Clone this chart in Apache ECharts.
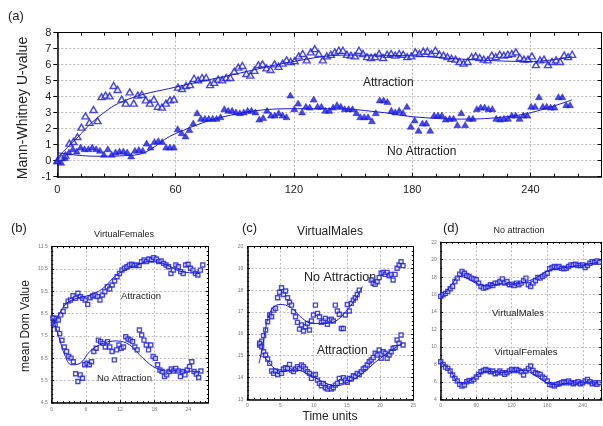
<!DOCTYPE html>
<html>
<head>
    <meta charset="utf-8" />
    <title>Mann-Whitney / mean Dom</title>
    <script src="https://cdn.jsdelivr.net/npm/echarts@6/dist/echarts.min.js"></script>
    <style>
        html, body { margin: 0; padding: 0; background: #fff; }
        #container { width: 603px; height: 426px; }
    </style>
</head>
<body>
    <div id="container"></div>
    <script>
        // ---- (a) Mann-Whitney U-value, sampled every ~2 time units
        var aAttrStart = 0, aAttrStep = 2.04;
        var aAttr = [0, 0.2, 0.35, 1.1, 1.2, 1.5, 2.1, 2.8, 2.4, 3.2,
            2.5, 4.0, 4.1, 4.05, 4.7, 4.45, 3.85, 3.6, 4.3, 3.6,
            4.1, 4.15, 3.8, 3.6, 3.85, 3.4, 3.35, 3.6, 3.8, 3.85,
            4.6, 4.5, 4.7, 4.75, 5.15, 5.05, 5.2, 5.2, 4.75, 4.9,
            5.1, 5.05, 5.2, 5.2, 5.6, 5.85, 5.95, 5.45, 5.35, 5.65,
            6.0, 6.05, 5.8, 5.7, 6.05, 5.9, 6.1, 6.3, 6.2, 6.25,
            6.55, 6.7, 6.3, 6.8, 7.0, 6.7, 6.3, 6.55, 6.65, 6.8,
            6.9, 6.9, 6.65, 6.6, 6.55, 6.9, 6.7, 6.5, 6.45, 6.5,
            6.7, 6.45, 6.65, 6.7, 6.6, 6.7, 6.65, 6.5, 6.55, 6.8,
            6.7, 6.85, 6.85, 6.7, 6.9, 6.65, 6.6, 6.5, 6.4, 6.35,
            6.2, 6.1, 6.2, 6.5, 6.55, 6.45, 6.35, 6.3, 6.6, 6.5,
            6.65, 6.6, 6.65, 6.7, 6.8, 6.45, 6.35, 6.35, 6.55, 6.0,
            6.3, 6.35, 6.0, 6.2, 6.3, 6.2, 6.6, 6.5, 6.65];
        var aNoStart = 0, aNoStep = 1.97;
        var aNo = [0.0, -0.1, 0.2, 0.55, 0.75, 0.6, 0.85, 0.75, 0.75, 0.85,
            0.75, 0.65, 0.4, 0.75, 0.4, 0.55, 0.6, 0.6, 0.55, 0.3,
            0.65, 0.7, 0.65, 1.1, 0.85, 1.2, 1.25, 1.2, 0.85, 0.85,
            0.85, 2.0, 1.75, 1.55, 1.95, 2.35, 3.0, 2.65, 2.65, 2.65,
            2.65, 2.65, 2.75, 3.25, 3.15, 3.15, 3.05, 3.0, 3.05, 3.15,
            3.15, 3.05, 2.6, 2.7, 3.15, 2.85, 2.85, 3.0, 2.85, 2.75,
            4.1, 3.25, 3.6, 3.05, 3.4, 3.35, 3.85, 3.4, 3.4, 3.15,
            3.15, 3.35, 3.5, 3.4, 3.25, 3.25, 3.25, 3.0, 2.75, 2.75,
            2.75, 2.5, 3.0, 3.8, 3.8, 3.7, 3.15, 3.05, 3.15, 3.0,
            3.4, 2.15, 2.55, 1.9, 2.35, 2.35, 1.9, 2.85, 2.85, 2.85,
            2.6, 2.65, 2.65, 2.25, 3.0, 2.25, 2.65, 2.65, 3.25, 3.35,
            3.35, 3.25, 3.25, 2.65, 2.6, 2.65, 2.65, 2.85, 2.85, 2.65,
            2.85, 2.85, 3.4, 3.4, 4.0, 3.4, 3.4, 3.35, 3.35, 4.0,
            4.0, 3.5, 3.5];
        var aAttrFitT = [0, 9, 21, 35, 60, 88, 120, 146, 180, 205, 240, 261];
        var aAttrFitV = [0.2, 1.3, 2.75, 3.8, 4.6, 5.35, 6.2, 6.6, 6.55, 6.35, 6.2, 6.5];
        var aNoFitT = [0, 19, 39, 60, 88, 120, 140, 166, 180, 205, 224, 240, 261];
        var aNoFitV = [0.5, 0.28, 0.35, 1.7, 2.85, 3.25, 3.25, 3.0, 2.75, 2.6, 2.7, 3.0, 3.8];

        // ---- (b) VirtualFemales
        var bAttrStart = 0.3, bAttrStep = 0.43;
        var bAttr = [8.06, 8.29, 8.21, 8.44, 8.59, 8.85, 9.06, 9.11, 9.30, 9.18,
            9.41, 9.26, 9.18, 9.11, 8.91, 9.21, 9.29, 9.33, 9.26, 9.11,
            9.33, 9.48, 9.71, 9.60, 9.78, 9.96, 10.15, 10.30, 10.45, 10.53,
            10.60, 10.68, 10.71, 10.65, 10.68, 10.65, 10.83, 10.90, 10.83, 10.95,
            10.90, 11.01, 10.95, 10.83, 10.86, 10.75, 10.68, 10.60, 10.30, 10.45,
            10.68, 10.60, 10.38, 10.30, 10.68, 10.71, 10.53, 10.45, 10.30, 10.23,
            10.45, 10.68];
        var bNoStart = 0.2, bNoStep = 0.4;
        var bNo = [8.3, 8.0, 7.8, 7.6, 7.3, 7.0, 6.8, 6.57, 6.5, 6.34,
            5.8, 5.45, 5.75, 5.6, 6.2, 6.27, 6.2, 6.34, 6.8, 6.94,
            7.31, 7.24, 7.16, 7.0, 7.24, 7.0, 6.8, 6.42, 6.87, 7.09,
            6.94, 7.0, 7.46, 7.36, 7.31, 7.24, 7.0, 6.87, 7.76, 7.54,
            7.31, 7.09, 6.87, 7.09, 6.57, 6.49, 6.2, 5.97, 5.9, 5.67,
            5.75, 5.9, 6.01, 5.92, 6.04, 5.92, 5.67, 5.9, 5.75, 5.97,
            6.12, 6.34, 5.9, 5.78, 5.63, 5.92];
        var bAttrFitT = [0.2, 1.2, 2.6, 4.4, 6.7, 9, 11.4, 14.3, 17.3, 20.2, 22.5, 26];
        var bAttrFitV = [8.0, 8.44, 8.96, 9.18, 9.33, 9.63, 10.23, 10.6, 10.83, 10.68, 10.4, 10.3];
        var bNoFitT = [0.2, 1.2, 2.3, 3.5, 5, 6.7, 9, 11.4, 13.7, 16, 18.4, 20.8, 23.1, 26];
        var bNoFitV = [8.3, 7.5, 6.64, 6.2, 6.27, 6.8, 7.16, 7.27, 7.09, 6.5, 6.04, 5.92, 5.92, 5.9];

        // ---- (c) VirtualMales
        var cStart = 1.86, cStep = 0.3;
        var cNo = [15.49, 15.67, 15.92, 16.18, 16.56, 16.87, 16.79, 17.09, 17.17, 17.66,
            17.91, 18.12, 17.81, 17.97, 17.66, 17.45, 17.32, 17.02, 16.79, 16.53,
            16.22, 16.41, 16.13, 16.33, 16.48, 16.18, 16.59, 16.87, 17.32, 16.94,
            16.79, 16.53, 16.59, 16.71, 16.44, 16.64, 16.68, 16.59, 17.32, 17.05,
            16.90, 16.25, 16.25, 16.87, 17.35, 17.05, 17.40, 17.55, 17.66, 17.81,
            18.01, null, null, null, null, null, 18.47, 18.32, 18.27, 18.39,
            18.58, 18.78, 18.82, 18.73, 18.82, 18.67, 18.73, 18.47, 18.73, 19.01,
            19.16, 19.31, 19.13];
        var cAttr = [15.57, 15.41, 15.18, 15.03, 14.85, 14.65, 14.30, 14.19, 14.30, 14.14,
            14.27, 14.19, 14.39, 14.45, 14.42, 14.60, 14.34, 14.27, 14.39, 14.50,
            14.42, 14.57, 14.50, 14.39, 14.27, 14.19, 13.96, 14.11, 14.14, 13.88,
            13.73, 13.62, 13.73, 13.53, 13.47, 13.58, 13.47, 13.53, 13.65, 13.73,
            13.96, 13.81, 13.99, 13.88, 13.78, 13.96, 13.93, 14.08, 14.04, 14.19,
            14.14, 14.27, 14.39, 14.45, 14.57, 14.72, 14.80, 14.91, 15.11, 15.03,
            15.26, 14.88, 15.18, 15.11, 14.88, 15.03, 15.18, 15.34, 15.37, 15.72,
            15.57, 15.95, 15.49];
        var cNoFitT = [1.76, 2.26, 2.76, 3.27, 4.02, 5.03, 6.03, 7.04, 8.29, 9.8, 11.81, 13.32, 14.82, 16.33, 17.34];
        var cNoFitV = [14.65, 15.34, 16.25, 16.87, 17.25, 17.35, 17.29, 17.09, 16.71, 16.48, 16.48, 16.59, 17.02, 17.63, 18.17];
        var cAttrFitT = [1.76, 2.76, 3.77, 5.28, 7.29, 9.3, 11.31, 13.32, 15.33, 17.34, 19.35, 21.36, 23.37];
        var cAttrFitV = [15.03, 14.88, 14.5, 14.27, 14.34, 14.14, 13.81, 13.62, 13.81, 14.19, 14.72, 15.18, 15.57];

        // ---- (d) No attraction
        var dStart = 0, dStep = 4;
        var dMales = [15.8, 15.99, 16.14, 16.37, 16.67, 16.94, 17.51, 17.89, 18.35, 18.65,
            18.46, 18.19, 18.08, 17.89, 17.81, 17.70, 17.32, 16.94, 16.75, 16.82,
            16.94, 17.13, 17.05, 17.32, 17.32, 17.51, 17.81, 17.32, 17.51, 17.13,
            17.21, 17.05, 17.32, 17.13, 17.32, 17.59, 17.89, 17.13, 16.94, 17.32,
            17.59, 17.97, 17.89, 18.08, 18.27, 18.46, 18.96, 19.11, 19.22, 19.11,
            19.22, 19.03, 18.96, 19.03, 19.22, 19.41, 19.41, 19.49, 19.34, 19.34,
            19.41, 19.11, 19.34, 19.60, 19.79, 19.72, 19.87, 19.72];
        var dFemales = [8.30, 8.00, 7.69, 7.54, 7.24, 6.78, 6.40, 6.09, 5.71, 5.52,
            5.64, 6.02, 6.17, 6.09, 6.28, 6.55, 6.86, 7.16, 7.31, 7.43,
            7.31, 7.16, 7.24, 6.93, 7.05, 7.24, 7.05, 6.86, 7.05, 7.24,
            7.43, 7.31, 7.43, 7.31, 7.16, 6.78, 7.24, 7.54, 7.81, 7.31,
            7.05, 6.93, 6.86, 6.55, 6.40, 6.09, 5.71, 5.64, 5.52, 5.71,
            5.79, 5.90, 6.02, 5.90, 6.09, 5.90, 5.79, 5.90, 6.02, 5.79,
            5.90, 6.09, 6.28, 6.02, 5.79, 5.90, 5.71, 5.90];
        var dMaleFitT = [0, 10, 20, 32, 44, 60, 80, 100, 120, 140, 160, 180, 200, 220, 240, 266];
        var dMaleFitV = [15.6, 16.4, 17.3, 18.1, 17.9, 17.3, 17.0, 17.2, 17.2, 17.4, 17.9, 18.7, 19.0, 19.2, 19.4, 19.7];
        var dFemFitT = [0, 16, 32, 48, 64, 80, 100, 120, 140, 160, 176, 190, 210, 240, 266];
        var dFemFitV = [8.3, 7.3, 5.9, 6.1, 6.9, 7.2, 7.1, 7.2, 7.3, 6.7, 6.0, 5.7, 5.8, 5.9, 5.85];

        var blue = '#1a1ae0';
        var font = 'Liberation Sans, Arial, sans-serif';

        function sampled(t0, step, vals) {
            var out = [];
            vals.forEach(function (v, i) {
                if (v !== null) out.push([t0 + i * step, v]);
            });
            return out;
        }
        function pairs(ts, vs) {
            return ts.map(function (t, i) { return [t, vs[i]]; });
        }

        var dom = document.getElementById('container');
        var myChart = echarts.init(dom, null, { renderer: 'canvas' });

        var grids = [
            { left: 57.3, top: 32.7, right: 1.5, bottom: 249.3 },
            { left: 51.7, top: 246.7, width: 156.6, height: 156 },
            { left: 247.3, top: 246.7, width: 166, height: 152.6 },
            { left: 440.7, top: 242.3, width: 161, height: 157 }
        ];

        var xAxes = [], yAxes = [];
        function addAxes(gi, xa, ya) {
            var lblSize = xa.big ? 11 : 5;
            var lblColor = xa.big ? '#222' : '#777';
            var split = { show: true, lineStyle: { color: '#bbb', type: [2, 2], width: 1 } };
            [['bottom', true], ['top', false]].forEach(function (p) {
                xAxes.push({
                    type: 'value', gridIndex: gi, position: p[0],
                    min: xa.min, max: xa.max, interval: xa.interval,
                    axisLine: { show: true, onZero: false, lineStyle: { color: '#000', width: p[1] ? 1.5 : 1 } },
                    axisTick: { show: true, inside: true, length: xa.big ? 4 : 2.5, lineStyle: { color: '#000' } },
                    minorTick: { show: true, splitNumber: xa.minor, length: xa.big ? 3 : 1.5, lineStyle: { color: '#000' } },
                    axisLabel: {
                        show: p[1], fontSize: lblSize, color: lblColor, fontFamily: font,
                        margin: xa.big ? 8 : 4, showMaxLabel: xa.showMax !== false
                    },
                    splitLine: p[1] ? split : { show: false }
                });
            });
            [['left', true], ['right', false]].forEach(function (p) {
                yAxes.push({
                    type: 'value', gridIndex: gi, position: p[0],
                    min: ya.min, max: ya.max, interval: ya.interval,
                    axisLine: { show: true, onZero: false, lineStyle: { color: '#000', width: p[1] ? 1.5 : 1 } },
                    axisTick: { show: true, inside: !(xa.big && p[1]), length: xa.big ? 4 : 2.5, lineStyle: { color: '#000' } },
                    minorTick: { show: !xa.big, splitNumber: ya.minor, length: 1.5, lineStyle: { color: '#000' } },
                    axisLabel: {
                        show: p[1], fontSize: lblSize, color: lblColor, fontFamily: font,
                        margin: xa.big ? 6 : 4,
                        formatter: ya.fmt
                    },
                    splitLine: p[1] ? split : { show: false }
                });
            });
        }

        addAxes(0, { min: 0, max: 276, interval: 60, minor: 5, big: true, showMax: false },
            { min: -1, max: 8, interval: 1 });
        addAxes(1, { min: 0, max: 27.5, interval: 6, minor: 6, showMax: false },
            { min: 4.5, max: 11.5, interval: 1, minor: 5, fmt: function (v) { return v.toFixed(1); } });
        addAxes(2, { min: 0, max: 25, interval: 5, minor: 5 },
            { min: 13, max: 20, interval: 1, minor: 5 });
        addAxes(3, { min: 0, max: 272, interval: 60, minor: 6, showMax: false },
            { min: 4, max: 22, interval: 2, minor: 2 });

        function dots(gi, data, symbol, size, filled) {
            return {
                type: 'scatter', xAxisIndex: gi * 2, yAxisIndex: gi * 2, data: data,
                symbol: symbol, symbolSize: size, z: 3, silent: true, animation: false,
                itemStyle: filled
                    ? { color: blue, borderColor: blue, borderWidth: 0.6 }
                    : { color: 'rgba(255,255,255,0.6)', borderColor: blue, borderWidth: 1.4 }
            };
        }
        function fit(gi, data) {
            return {
                type: 'line', xAxisIndex: gi * 2, yAxisIndex: gi * 2, data: data,
                smooth: 0.4, showSymbol: false, z: 4, silent: true, animation: false,
                lineStyle: { color: blue, width: 1 }
            };
        }

        var series = [
            dots(0, sampled(aAttrStart, aAttrStep, aAttr), 'triangle', [7, 6], false),
            dots(0, sampled(aNoStart, aNoStep, aNo), 'triangle', [7, 6], true),
            fit(0, pairs(aAttrFitT, aAttrFitV)),
            fit(0, pairs(aNoFitT, aNoFitV)),
            dots(1, sampled(bAttrStart, bAttrStep, bAttr), 'rect', 4, false),
            dots(1, sampled(bNoStart, bNoStep, bNo), 'rect', 4, false),
            fit(1, pairs(bAttrFitT, bAttrFitV)),
            fit(1, pairs(bNoFitT, bNoFitV)),
            dots(2, sampled(cStart, cStep, cNo), 'rect', 4, false),
            dots(2, sampled(cStart, cStep, cAttr), 'rect', 4, false),
            fit(2, pairs(cNoFitT, cNoFitV)),
            fit(2, pairs(cAttrFitT, cAttrFitV)),
            dots(3, sampled(dStart, dStep, dMales), 'rect', 4, false),
            dots(3, sampled(dStart, dStep, dFemales), 'rect', 4, false),
            fit(3, pairs(dMaleFitT, dMaleFitV)),
            fit(3, pairs(dFemFitT, dFemFitV))
        ];

        function txt(s, x, y, size, align, rot) {
            return {
                type: 'text', x: x, y: y, rotation: rot || 0, z: 1, silent: true,
                style: {
                    text: s, fontSize: size, fontFamily: font, fill: '#222',
                    align: align || 'left', verticalAlign: 'middle'
                }
            };
        }

        option = {
            backgroundColor: '#fff',
            animation: false,
            grid: grids,
            xAxis: xAxes,
            yAxis: yAxes,
            series: series,
            graphic: [
                txt('(a)', 8, 16, 13),
                txt('Mann-Whitney U-value', 23, 108, 14, 'center', Math.PI / 2),
                txt('Attraction', 363, 83, 12),
                txt('No Attraction', 387, 152, 12),
                txt('(b)', 11, 228, 13),
                txt('VirtualFemales', 124, 235, 9, 'center'),
                txt('mean Dom Value', 26, 326, 12, 'center', Math.PI / 2),
                txt('Attraction', 121, 296, 9.5),
                txt('No Attraction', 97, 378, 9.5),
                txt('(c)', 242, 228, 13),
                txt('VirtualMales', 330, 232, 12, 'center'),
                txt('No Attraction', 304, 278, 12.5),
                txt('Attraction', 317, 351, 12),
                txt('Time units', 330, 417, 12, 'center'),
                txt('(d)', 443, 228, 13),
                txt('No attraction', 519, 231, 9, 'center'),
                txt('VirtualMales', 518, 313, 9.5, 'center'),
                txt('VirtualFemales', 526, 352, 9.5, 'center')
            ]
        };

        if (option && typeof option === 'object') {
            myChart.setOption(option, true);
        }
    </script>
</body>
</html>
